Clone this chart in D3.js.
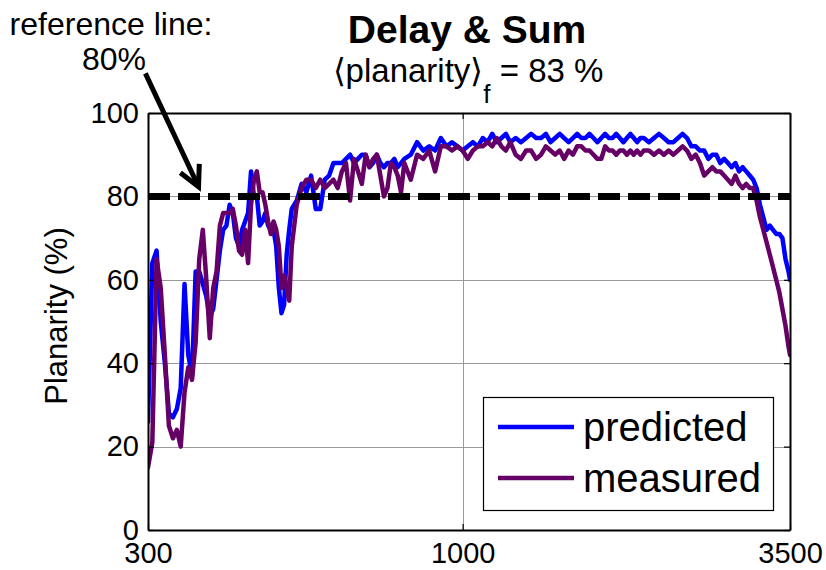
<!DOCTYPE html>
<html>
<head>
<meta charset="utf-8">
<script src="https://cdn.jsdelivr.net/npm/d3@7"></script>
<style>
  html, body { margin: 0; padding: 0; background: #ffffff; }
  svg { display: block; font-family: "Liberation Sans", Arial, Helvetica, sans-serif; }
</style>
</head>
<body>
<svg id="chart" width="826" height="570"></svg>
<script>
// Frequency grid (Hz) of the planarity curves
const freqHz = [
  300,305,310,315,320,325,330,335,340,345,350,355,360,365,370,375,380,385,390,395,
  400,405,410,415,420,425,430,435,440,445,450,455,460,465,470,475,480,485,490,495,
  500,505,510,515,520,
  530,540,550,560,570,580,590,600,610,620,630,640,650,660,670,680,690,700,710,720,
  730,740,750,760,770,780,790,800,
  820,840,860,880,900,920,940,960,980,1000,1020,1040,1060,1080,1100,1120,1140,1160,1180,1200,
  1225,1250,1275,1300,1325,1350,1375,1400,1425,1450,1475,1500,1525,1550,1575,1600,
  1625,1650,1675,1700,1725,1750,1775,1800,1825,1850,1875,1900,1925,1950,1975,2000,
  2040,2080,2120,2160,2200,2240,2280,2320,2360,2400,2440,2480,2520,2560,2600,2640,
  2680,2720,2760,2800,2840,2880,2920,2960,3000,3040,3080,3120,3160,3200,3240,3280,
  3320,3360,3400,3440,3480,3500
];

// Predicted planarity (%)
const predicted = [
  26,64,67,50,40,28,27,29,34,59,42,37,62,62,59,56,51,53,60,67,
  72,73,78,76,70,68,72,74,76,86,80,80,73,74,76,73,72,72,68,58,
  52,54,66,72,77,
  79,83,81,85,77,77,84,85,88,88,88,89,90,88,89,90,90,87,88,90,
  88,87,88,88,89,87,88,89,
  90,93,91,92,91,94,92,93,92,91,92,93,92,94,93,95,93,94,95,93,
  94,93,94,95,94,94,95,93,94,95,94,93,94,95,94,94,
  95,94,93,94,95,94,94,95,94,93,94,95,94,93,94,94,
  93,94,95,94,93,93,94,95,94,92,92,91,91,89,90,90,
  88,89,88,87,88,86,87,86,85,84,82,78,75,72,73,72,
  71,71,70,65,62,60
];

// Measured planarity (%)
const measured = [
  15,21,65,58,42,25,22,24,20,33,39,36,45,65,72,60,46,58,62,73,
  76,76,76,77,73,67,66,72,64,78,84,86,81,81,78,74,71,74,72,68,
  58,61,58,55,68,
  78,82,84,84,82,84,82,83,84,82,86,88,79,89,86,83,90,87,89,90,
  85,80,82,88,87,85,81,88,
  84,90,89,91,86,92,92,91,92,91,89,91,92,92,93,92,94,92,91,93,
  90,89,91,91,89,90,92,91,90,91,89,91,90,92,92,91,
  91,90,89,89,92,91,91,90,91,91,90,91,90,91,90,91,
  91,90,91,90,91,90,91,92,91,89,90,88,85,86,87,86,
  86,85,84,83,85,83,82,83,82,82,79,75,72,69,66,63,
  60,57,53,49,44,42
];

const xTickValues = [300, 1000, 3500];
const yTickValues = [0, 20, 40, 60, 80, 100];
const xGridValues = [1000];
const yGridValues = [20, 40, 60, 80];
const referenceLevel = 80;
const seriesNames = ["predicted", "measured"];
const seriesColors = ["#0000ff", "#660066"];
const meanPlanarity = 83;
// Annotation arrow, in data units: [frequency, planarity]
const arrowTail = [297, 109.5];
const arrowHead = [364, 82.3];

const svg = d3.select("#chart");
const plot = { left: 148, right: 790, top: 113, bottom: 530 };

const x = d3.scaleLog().domain([300, 3500]).range([plot.left, plot.right]);
const y = d3.scaleLinear().domain([0, 100]).range([plot.bottom, plot.top]);

svg.append("defs").append("clipPath").attr("id", "plot-clip")
  .append("rect")
  .attr("x", plot.left).attr("y", plot.top - 2)
  .attr("width", plot.right - plot.left).attr("height", plot.bottom - plot.top + 2);

// Grid lines
const grid = svg.append("g").attr("class", "grid")
  .attr("stroke", "#9a9a9a").attr("stroke-width", 1);
grid.selectAll("line.gy").data(yGridValues).join("line").attr("class", "gy")
  .attr("x1", plot.left).attr("x2", plot.right)
  .attr("y1", d => Math.round(y(d)) + 0.5).attr("y2", d => Math.round(y(d)) + 0.5);
grid.selectAll("line.gx").data(xGridValues).join("line").attr("class", "gx")
  .attr("y1", plot.top).attr("y2", plot.bottom)
  .attr("x1", d => Math.round(x(d)) + 0.5).attr("x2", d => Math.round(x(d)) + 0.5);

// Data curves
const line = d3.line().x(d => x(d[0])).y(d => y(d[1]));
const curves = svg.append("g").attr("clip-path", "url(#plot-clip)");
[predicted, measured].forEach((vals, i) => {
  curves.append("path")
    .datum(freqHz.map((f, k) => [f, vals[k]]))
    .attr("d", line)
    .attr("fill", "none")
    .attr("stroke", seriesColors[i])
    .attr("stroke-width", 4.5)
    .attr("stroke-linejoin", "round")
    .attr("stroke-linecap", "round");
});

// Dashed reference line
svg.append("line")
  .attr("x1", x(300)).attr("x2", x(3500))
  .attr("y1", y(referenceLevel)).attr("y2", y(referenceLevel))
  .attr("stroke", "#000").attr("stroke-width", 7)
  .attr("stroke-dasharray", "22,8");

// Axes (inward ticks on all four sides)
const axisFont = 29;
const axisLeftG = svg.append("g").attr("transform", `translate(${plot.left},0)`)
  .call(d3.axisLeft(y).tickValues(yTickValues).tickSizeInner(-6).tickSizeOuter(0).tickPadding(9));
const axisBottomG = svg.append("g").attr("transform", `translate(0,${plot.bottom})`)
  .call(d3.axisBottom(x).tickValues(xTickValues).tickFormat(d3.format("d"))
    .tickSizeInner(-6).tickSizeOuter(0).tickPadding(12));
const axisTopG = svg.append("g").attr("transform", `translate(0,${plot.top})`)
  .call(d3.axisTop(x).tickValues(xTickValues).tickFormat("").tickSizeInner(-6).tickSizeOuter(0));
const axisRightG = svg.append("g").attr("transform", `translate(${plot.right},0)`)
  .call(d3.axisRight(y).tickValues(yTickValues).tickFormat("").tickSizeInner(-6).tickSizeOuter(0));

[axisLeftG, axisBottomG, axisTopG, axisRightG].forEach(g => {
  g.select(".domain").attr("stroke", "#000").attr("stroke-width", 2);
  g.selectAll(".tick line").attr("stroke", "#000").attr("stroke-width", 1.2);
  g.selectAll(".tick text").attr("fill", "#000")
    .style("font-size", axisFont + "px")
    .style("font-family", "'Liberation Sans', Arial, sans-serif");
});

// Y axis label
svg.append("text")
  .attr("transform", "translate(67,316) rotate(-90)")
  .attr("text-anchor", "middle")
  .style("font-size", "31px")
  .text("Planarity (%)");

// Title
svg.append("text")
  .attr("x", 467).attr("y", 43)
  .attr("text-anchor", "middle")
  .style("font-size", "39px").style("font-weight", "bold")
  .text("Delay & Sum");

const sub = svg.append("text")
  .attr("x", 468).attr("y", 82)
  .attr("text-anchor", "middle")
  .style("font-size", "33px");
sub.append("tspan").text("\u27E8planarity\u27E9");
sub.append("tspan").attr("dy", 21).style("font-size", "26px").text("f");
sub.append("tspan").attr("dy", -21).text(` = ${meanPlanarity} %`);

// Reference line annotation
const note = svg.append("text").attr("text-anchor", "middle").style("font-size", "32px");
note.append("tspan").attr("x", 111).attr("y", 35).text("reference line:");
note.append("tspan").attr("x", 114).attr("y", 70).text(`${referenceLevel}%`);

const ax0 = x(arrowTail[0]), ay0 = y(arrowTail[1]);
const ax1 = x(arrowHead[0]), ay1 = y(arrowHead[1]);
const ang = Math.atan2(ay0 - ay1, ax0 - ax1);
const wing = 23, spread = 27 * Math.PI / 180;
const arrow = svg.append("g").attr("stroke", "#000").attr("stroke-width", 5)
  .attr("fill", "none").attr("stroke-linecap", "butt").attr("stroke-linejoin", "miter");
arrow.append("line").attr("x1", ax0).attr("y1", ay0).attr("x2", ax1).attr("y2", ay1);
arrow.append("path").attr("d", d3.line()([
  [ax1 + wing * Math.cos(ang - spread), ay1 + wing * Math.sin(ang - spread)],
  [ax1, ay1],
  [ax1 + wing * Math.cos(ang + spread), ay1 + wing * Math.sin(ang + spread)]
]));

// Legend
const legend = svg.append("g");
legend.append("rect")
  .attr("x", 483.5).attr("y", 397.5).attr("width", 290).attr("height", 113)
  .attr("fill", "#fff").attr("stroke", "#000").attr("stroke-width", 1.2);
seriesNames.forEach((name, i) => {
  const ly = 427 + i * 51;
  legend.append("line")
    .attr("x1", 498).attr("x2", 574).attr("y1", ly).attr("y2", ly)
    .attr("stroke", seriesColors[i]).attr("stroke-width", 4.5);
  legend.append("text")
    .attr("x", 583).attr("y", ly + 14)
    .style("font-size", "40px")
    .text(name);
});
</script>
</body>
</html>
